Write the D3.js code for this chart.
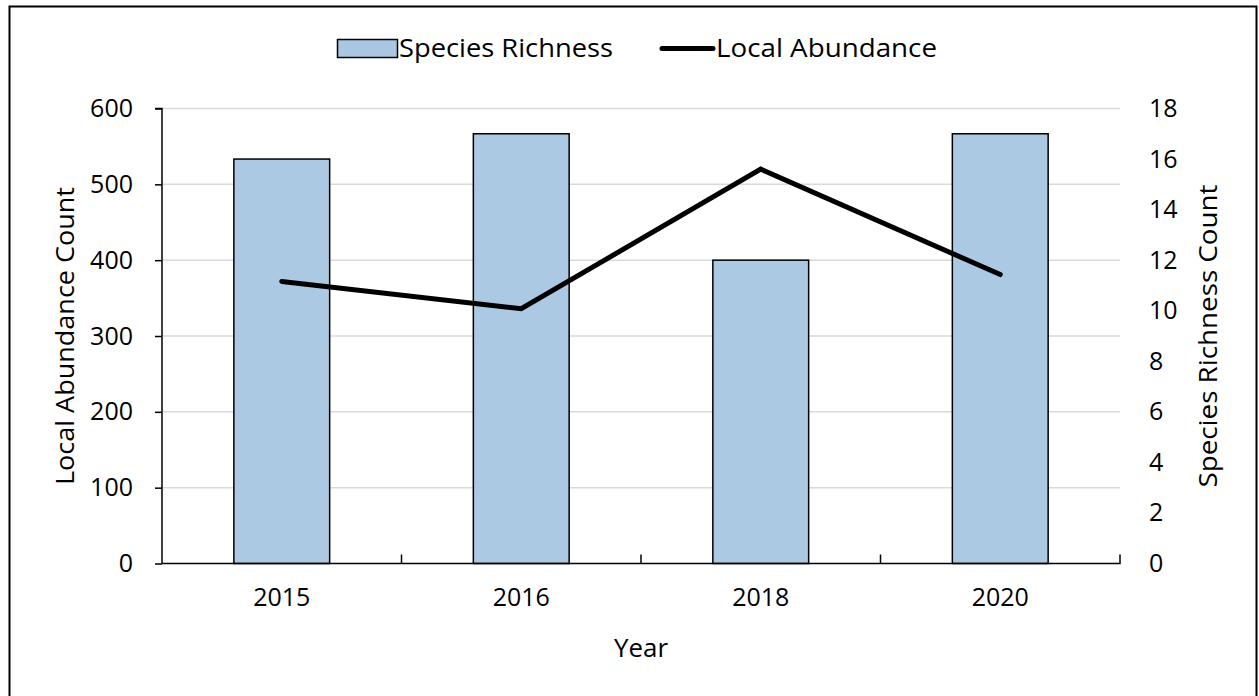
<!DOCTYPE html>
<html><head><meta charset="utf-8">
<script src="https://cdn.jsdelivr.net/npm/d3@7"></script>
<style>html,body{margin:0;padding:0;background:#fff}svg{display:block}text{font-family:"Open Sans",sans-serif;fill:#000}</style>
</head><body><svg id="c" width="1259" height="696"></svg>
<script>
const years = ["2015", "2016", "2018", "2020"];
const speciesRichness = [16, 17, 12, 17];
const localAbundance = [372, 336, 520, 381];
const leftTicks = [0, 100, 200, 300, 400, 500, 600];
const rightTicks = [0, 2, 4, 6, 8, 10, 12, 14, 16, 18];

const svg = d3.select("#c");
const m = {l: 162, r: 1120, t: 108.5, b: 563.5};

svg.append("rect").attr("x", 9.5).attr("y", 6.5).attr("width", 1247).attr("height", 700)
  .attr("fill", "#fff").attr("stroke", "#000").attr("stroke-width", 2);

const x = d3.scaleBand().domain(years).range([m.l, m.r]).padding(0);
const yL = d3.scaleLinear().domain([0, 600]).range([m.b, m.t]);
const yR = d3.scaleLinear().domain([0, 18]).range([m.b, m.t]);

// gridlines
svg.append("g").selectAll("line").data(leftTicks.filter(d => d > 0)).join("line")
  .attr("x1", m.l).attr("x2", m.r).attr("y1", d => yL(d)).attr("y2", d => yL(d))
  .attr("stroke", "#d9d9d9").attr("stroke-width", 1.5);

// bars
const bw = x.bandwidth() * 0.4;
svg.append("g").selectAll("rect").data(years).join("rect")
  .attr("x", (d) => x(d) + x.bandwidth() / 2 - bw / 2)
  .attr("width", bw)
  .attr("y", (d, i) => yR(speciesRichness[i]))
  .attr("height", (d, i) => m.b - yR(speciesRichness[i]))
  .attr("fill", "#a9c7e2").attr("fill-opacity", 0.97)
  .attr("stroke", "#000").attr("stroke-width", 1.5);

const tickFont = "25px";

// left axis
const gL = svg.append("g").attr("transform", `translate(${m.l},0)`)
  .call(d3.axisLeft(yL).tickValues(leftTicks).tickSize(7).tickPadding(22));
gL.select(".domain").attr("stroke", "#000").attr("stroke-width", 1.5).attr("d", `M-7,${m.t}H0V${m.b}`);
gL.selectAll(".tick line").attr("stroke", "#000").attr("stroke-width", 1.5);
gL.selectAll("text").style("font-size", tickFont).attr("font-family", "Open Sans");

// right axis (labels only)
const gR = svg.append("g").attr("transform", `translate(${m.r},0)`)
  .call(d3.axisRight(yR).tickValues(rightTicks).tickSize(0).tickPadding(29));
gR.select(".domain").remove();
gR.selectAll("text").style("font-size", tickFont).attr("font-family", "Open Sans");

// x axis
const gX = svg.append("g").attr("transform", `translate(0,${m.b})`)
  .call(d3.axisBottom(x).tickSize(0).tickPadding(25));
gX.select(".domain").attr("stroke", "#000").attr("stroke-width", 1.5).attr("d", `M${m.l},0H${m.r}V-9`);
gX.selectAll("text").style("font-size", tickFont).attr("font-family", "Open Sans");
// category separator ticks
svg.append("g").selectAll("line").data(years.slice(1)).join("line")
  .attr("x1", d => x(d)).attr("x2", d => x(d)).attr("y1", m.b).attr("y2", m.b - 9)
  .attr("stroke", "#000").attr("stroke-width", 1.5);

// line
const line = d3.line().x((d, i) => x(years[i]) + x.bandwidth() / 2).y(d => yL(d));
svg.append("path").datum(localAbundance).attr("d", line)
  .attr("fill", "none").attr("stroke", "#000").attr("stroke-width", 5)
  .attr("stroke-linecap", "round").attr("stroke-linejoin", "miter");

// axis titles
svg.append("text").attr("transform", `translate(74,${(m.t + m.b) / 2}) rotate(-90)`)
  .attr("text-anchor", "middle").style("font-size", "25px")
  .attr("textLength", 298).attr("lengthAdjust", "spacingAndGlyphs").text("Local Abundance Count");
svg.append("text").attr("transform", `translate(1217,${(m.t + m.b) / 2}) rotate(-90)`)
  .attr("text-anchor", "middle").style("font-size", "25px")
  .attr("textLength", 303).attr("lengthAdjust", "spacingAndGlyphs").text("Species Richness Count");
svg.append("text").attr("x", 641).attr("y", 657).attr("text-anchor", "middle")
  .style("font-size", "25px").attr("textLength", 54).attr("lengthAdjust", "spacingAndGlyphs").text("Year");

// legend
const lg = svg.append("g");
lg.append("rect").attr("x", 337.5).attr("y", 39.5).attr("width", 60).attr("height", 18)
  .attr("fill", "#a9c7e2").attr("stroke", "#000").attr("stroke-width", 1.5);
lg.append("text").attr("x", 399).attr("y", 57).style("font-size", "25px")
  .attr("textLength", 214).attr("lengthAdjust", "spacingAndGlyphs").text("Species Richness");
lg.append("line").attr("x1", 662).attr("x2", 713).attr("y1", 48.5).attr("y2", 48.5)
  .attr("stroke", "#000").attr("stroke-width", 5).attr("stroke-linecap", "round");
lg.append("text").attr("x", 716).attr("y", 57).style("font-size", "25px")
  .attr("textLength", 221).attr("lengthAdjust", "spacingAndGlyphs").text("Local Abundance");
</script></body></html>
